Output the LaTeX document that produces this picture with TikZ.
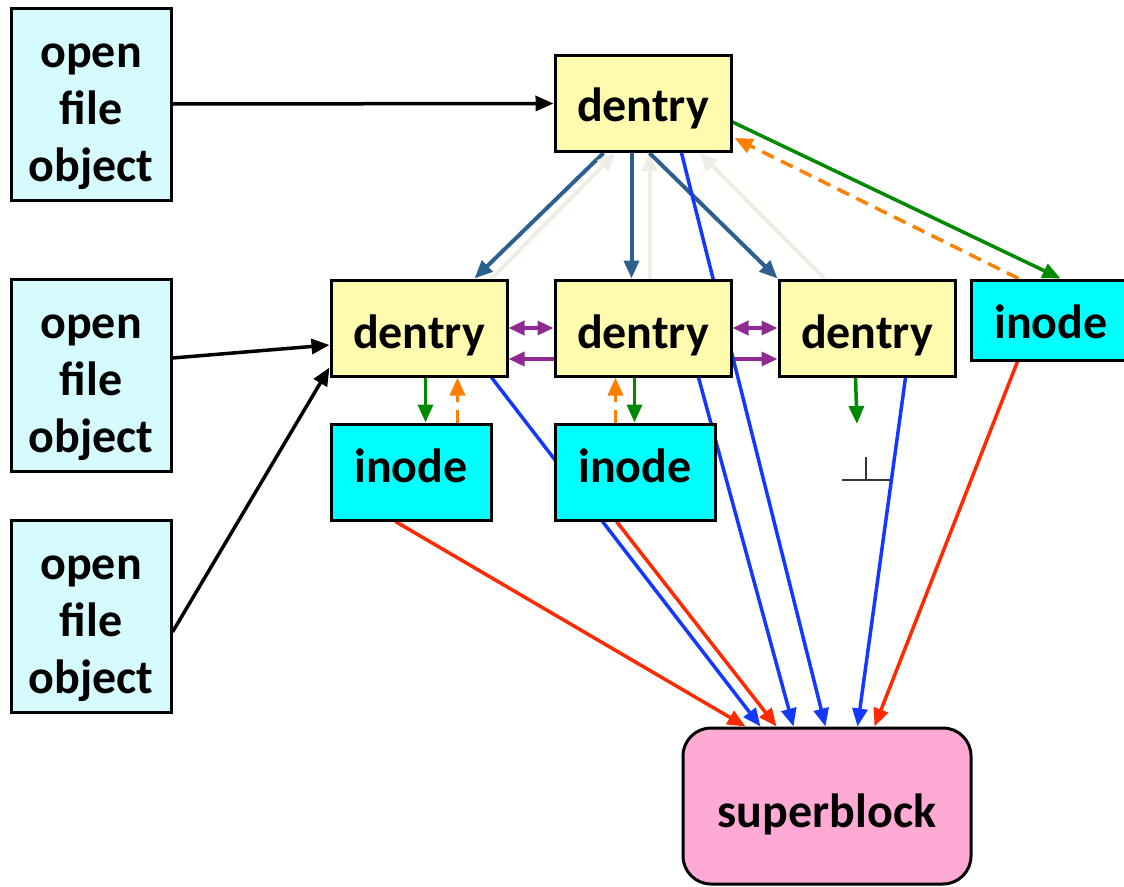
\documentclass[tikz,border=0pt]{standalone}
\usepackage{fontspec}
\setmainfont{Carlito}
\usetikzlibrary{arrows.meta,calc}
\pgfdeclarelayer{background}
\pgfsetlayers{background,main}
\definecolor{ofcol}{HTML}{D5FBFE}
\definecolor{dencol}{HTML}{FFFBAE}
\definecolor{inocol}{HTML}{00FFFF}
\definecolor{sbcol}{HTML}{FFAAD4}
\definecolor{steel}{HTML}{2D5F8F}
\definecolor{pale}{HTML}{EDEDE3}
\definecolor{bblue}{HTML}{1438FF}
\definecolor{rred}{HTML}{FF2A00}
\definecolor{ggreen}{HTML}{008A00}
\definecolor{oorange}{HTML}{FF7F00}
\definecolor{ppurple}{HTML}{8E2A91}
\newcommand\shiftdown[2]{\raisebox{-#1}[\height][\depth]{#2}}
\newcommand\ofobj{\shiftdown{9pt}{\begin{tabular}{@{}c@{}}open\\file\\object\end{tabular}}}
\tikzset{
  box/.style={draw=black, line width=3pt, inner sep=0pt, align=center,
    font=\fontsize{48}{57}\selectfont\bfseries},
  ofbox/.style={box, fill=ofcol, minimum width=160pt, minimum height=192pt},
  denbox/.style={box, fill=dencol, minimum width=176pt, minimum height=96pt},
  inobox/.style={box, fill=inocol, minimum width=160pt, minimum height=96pt},
  sbbox/.style={box, fill=sbcol, rounded corners=28pt, minimum width=288pt, minimum height=156pt},
  tip/.style={-{Triangle[length=18pt,width=15pt]}},
  blk/.style={tip, draw=black, line width=3.5pt},
  stl/.style={tip, draw=steel, line width=4pt},
  pal/.style={tip, draw=pale, line width=4pt},
  blu/.style={tip, draw=bblue, line width=3.5pt},
  red/.style={tip, draw=rred, line width=3.5pt},
  grn/.style={tip, draw=ggreen, line width=3.5pt},
  orn/.style={tip, draw=oorange, line width=3.5pt, dash pattern=on 13pt off 8pt},
  pur/.style={draw=ppurple, line width=3.5pt},
  dtip/.style={{Triangle[length=16pt,width=14pt]}-{Triangle[length=16pt,width=14pt]}},
  stip/.style={-{Triangle[length=16pt,width=14pt]}},
}
\begin{document}
\begin{tikzpicture}[x=1pt,y=-1pt]
\useasboundingbox (0,0) rectangle (1124,886);
\node[ofbox] (of1) at (91,104) {\ofobj};
\node[ofbox] (of2) at (91,375.5) {\ofobj};
\node[ofbox] (of3) at (91,616) {\ofobj};
\node[denbox] (td) at (643,103.5) {\shiftdown{5pt}{dentry}};
\node[denbox] (dl) at (419,328) {\shiftdown{7pt}{dentry}};
\node[denbox] (dm) at (643,328) {\shiftdown{7pt}{dentry}};
\node[denbox] (dr) at (867,328) {\shiftdown{7pt}{dentry}};
\node[inobox, minimum height=80pt] (ir) at (1051,320) {\shiftdown{2pt}{inode}};
\node[inobox] (il) at (411,472) {\shiftdown{-6pt}{inode}};
\node[inobox] (im) at (635,472) {\shiftdown{-6pt}{inode}};
\node[sbbox] (sb) at (827,806) {\shiftdown{8pt}{superblock}};
\coordinate (nul) at (857,424);
\coordinate (botv) at (866,457);
\coordinate (botl) at (842,480);
\coordinate (botr) at (890,480);
\draw[draw=black!80, line width=1.5pt] (botv) -- (botv |- botl) (botl) -- (botr);
\begin{pgfonlayer}{background}
% open file objects
\draw[blk] (of1.east) -- (td.west);
\draw[blk] ($(of2.east)+(0,-17.5)$) -- ($(dl.west)+(0,17)$);
\draw[blk] ($(of3.east)+(0,16)$) -- ($(dl.south west)+(0,-10)$);
% top dentry to children
\draw[stl] ($(td.south west)+(50,0)$) -- ($(dl.north west)+(145,0)$);
\draw[pal] ($(dl.north west)+(162,0)$) -- ($(td.south west)+(62,0)$);
\draw[stl] ($(td.south west)+(78,0)$) -- ($(dm.north west)+(78,0)$);
\draw[pal] ($(dm.north west)+(96,0)$) -- ($(td.south west)+(96,0)$);
\draw[stl] ($(td.south west)+(96,0)$) -- (dr.north west);
\draw[pal] ($(dr.north west)+(47,0)$) -- ($(td.south west)+(146,0)$);
% top dentry to inode
\draw[grn] ($(td.south east)+(0,-31)$) -- ($(ir.north west)+(91,0)$);
\draw[orn] ($(ir.north west)+(49,0)$) -- ($(td.south east)+(2,-15)$);
% siblings
\draw[pur, dtip] (dl.east) -- (dm.west);
\draw[pur, stip] ($(dm.west)+(0,31)$) -- ($(dl.east)+(0,31)$);
\draw[pur, dtip] (dm.east) -- (dr.west);
\draw[pur, stip] ($(dm.east)+(0,31)$) -- ($(dr.west)+(0,31)$);
% dentry <-> inode
\draw[grn] ($(dl.south west)+(96,0)$) -- ($(il.north west)+(96,0)$);
\draw[orn] ($(il.north west)+(128,0)$) -- ($(dl.south west)+(128,0)$);
\draw[orn] ($(im.north west)+(62,0)$) -- ($(dm.south west)+(62,0)$);
\draw[grn] ($(dm.south west)+(81,0)$) -- ($(im.north west)+(81,0)$);
\draw[grn] ($(dr.south west)+(78,0)$) -- (nul);
% to superblock
\draw[red] ($(il.south west)+(66,0)$) -- ($(sb.north west)+(64,0)$);
\draw[blu] ($(dl.south east)+(-17,0)$) -- ($(sb.north west)+(79,0)$);
\draw[red] ($(im.south west)+(63,0)$) -- ($(sb.north west)+(95,0)$);
\draw[blu] ($(dm.south west)+(145,0)$) -- ($(sb.north west)+(112,0)$);
\draw[blu] ($(td.south west)+(128,0)$) -- ($(sb.north west)+(144,0)$);
\draw[blu] ($(dr.south west)+(128,0)$) -- ($(sb.north west)+(176,0)$);
\draw[red] ($(ir.south west)+(48,0)$) -- ($(sb.north west)+(193,0)$);
\end{pgfonlayer}
\end{tikzpicture}
\end{document}
